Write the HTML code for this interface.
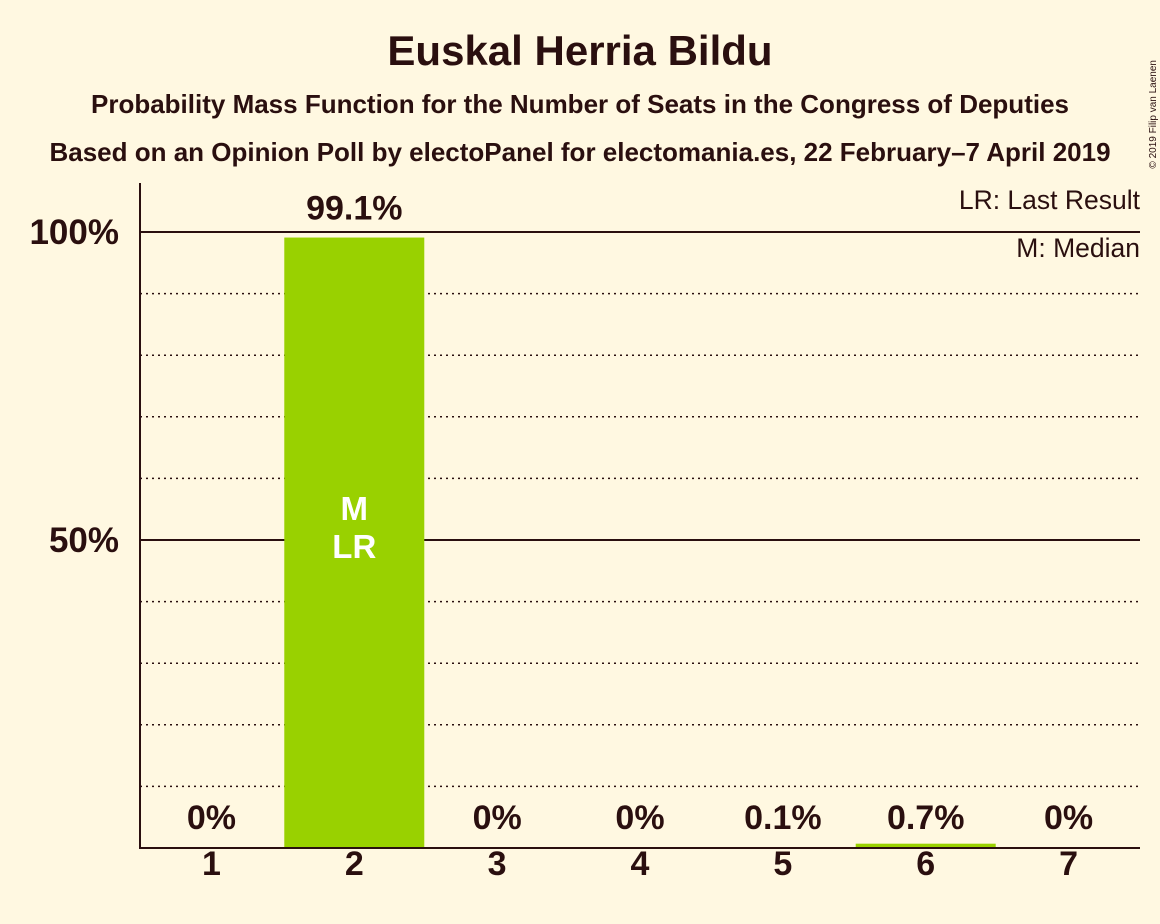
<!DOCTYPE html>
<html><head><meta charset="utf-8"><style>
html,body{margin:0;padding:0;background:#fff8e1;}
svg{display:block;font-family:"Liberation Sans",sans-serif;}
</style></head><body>
<svg width="1160" height="924" viewBox="0 0 1160 924">
<rect width="1160" height="924" fill="#fff8e1"/>
<text x="580" y="65" text-anchor="middle" font-size="42" font-weight="bold" fill="#2a0f0f">Euskal Herria Bildu</text>
<text x="580" y="113" text-anchor="middle" font-size="26" font-weight="bold" fill="#2a0f0f">Probability Mass Function for the Number of Seats in the Congress of Deputies</text>
<text x="580" y="161" text-anchor="middle" font-size="26" font-weight="bold" fill="#2a0f0f">Based on an Opinion Poll by electoPanel for electomania.es, 22 February–7 April 2019</text>
<text transform="translate(1156,60) rotate(-90)" text-anchor="end" font-size="10" fill="#2a0f0f">© 2019 Filip van Laenen</text>
<g id="grid"></g>
<g id="bars"></g>
<g id="labels"></g>
<line x1="140" y1="183" x2="140" y2="849" stroke="#2a0f0f" stroke-width="2"/>
<line x1="139" y1="848" x2="1140" y2="848" stroke="#2a0f0f" stroke-width="2"/>
<text x="1140" y="209" text-anchor="end" font-size="26.5" fill="#2a0f0f">LR: Last Result</text>
<text x="1140" y="257" text-anchor="end" font-size="26.5" fill="#2a0f0f">M: Median</text>
</svg>
<script>
const categories=[1,2,3,4,5,6,7];
const values=[0,99.1,0,0,0.1,0.7,0];
const valueLabels=["0%","99.1%","0%","0%","0.1%","0.7%","0%"];
const yTicks=[50,100];
const yTickLabels=["50%","100%"];
const gridTicks=[10,20,30,40,60,70,80,90];
const medianIndex=1, lastResultIndex=1;

const NS="http://www.w3.org/2000/svg";
const x0=140,x1=1140,y0=848,yScale=6.16;
const band=(x1-x0)/categories.length;
const xC=i=>x0+band*(i+0.5);
const yV=v=>y0-v*yScale;
function mk(tag,attrs,parent,txt){const e=document.createElementNS(NS,tag);for(const k in attrs)e.setAttribute(k,attrs[k]);if(txt!==undefined)e.textContent=txt;document.getElementById(parent).appendChild(e);return e;}
gridTicks.forEach(t=>{
 const l=mk('line',{x1:x0,x2:x1,y1:yV(t),y2:yV(t),stroke:'#2a0f0f','stroke-width':1.5,'stroke-dasharray':'2,4'},'grid');
 
 
});
yTicks.forEach((t,i)=>{
 const l=mk('line',{x1:x0,x2:x1,y1:yV(t),y2:yV(t),stroke:'#2a0f0f','stroke-width':2},'grid');
 
 
 const tx=mk('text',{x:119,y:yV(t)+12,'text-anchor':'end','font-size':35,'font-weight':'bold',fill:'#2a0f0f'},'labels',yTickLabels[i]);
 
 
});
categories.forEach((c,i)=>{
 const v=values[i];
 if(v>0){
  const h=v*yScale;
  const r=mk('rect',{x:xC(i)-70,y:y0-h,width:140,height:h,fill:'#99d100'},'bars');
  
  
 }
 const big=v>5;
 const ly=big?yV(v)-18:829;
 const t=mk('text',{x:xC(i),y:ly,'text-anchor':'middle','font-size':34,'font-weight':'bold',fill:'#2a0f0f'},'labels',valueLabels[i]);
 
 
 const xt=mk('text',{x:xC(i),y:875,'text-anchor':'middle','font-size':34,'font-weight':'bold',fill:'#2a0f0f'},'labels',String(c));
 
 
});
const m=mk('text',{x:xC(medianIndex),y:520,'text-anchor':'middle','font-size':33,'font-weight':'bold',fill:'#ffffff'},'labels','M');


const lr=mk('text',{x:xC(lastResultIndex),y:558,'text-anchor':'middle','font-size':33,'font-weight':'bold',fill:'#ffffff'},'labels','LR');


</script>
</body></html>
